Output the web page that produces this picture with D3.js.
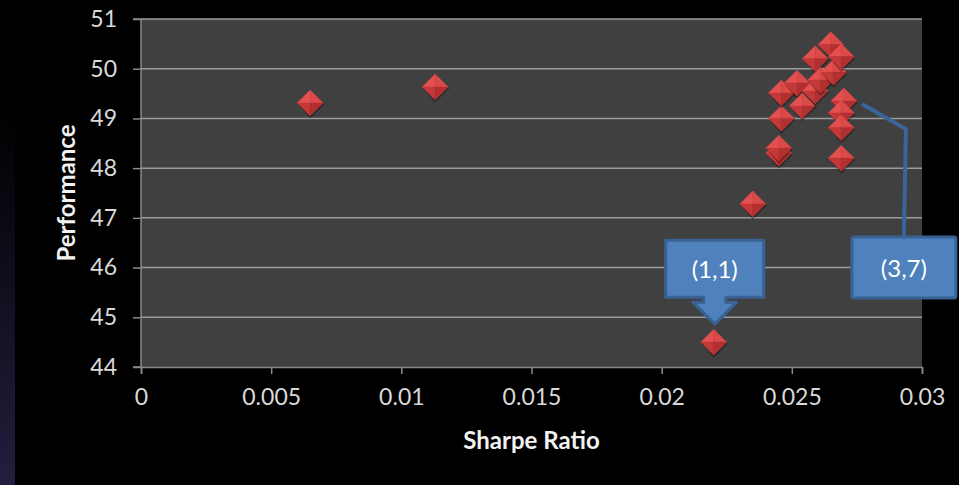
<!DOCTYPE html>
<html>
<head>
<meta charset="utf-8">
<script src="https://cdn.jsdelivr.net/npm/d3@7"></script>
<style>
  html, body { margin: 0; padding: 0; background: #000; }
  svg { display: block; }
</style>
</head>
<body>
<svg id="chart" width="959" height="485"></svg>
<script>
// Sharpe ratio vs performance for each parameter combination
const sharpe = [
  0.0065, 0.0113, 0.0220, 0.0235, 0.0245, 0.0245, 0.0246, 0.0246,
  0.0252, 0.0254, 0.0259, 0.0259, 0.0261, 0.0266, 0.0265, 0.0269,
  0.0270, 0.0269, 0.0269, 0.0269
];
const performance = [
  49.31, 49.63, 44.50, 47.28, 48.30, 48.40, 49.00, 49.51,
  49.71, 49.25, 50.20, 49.55, 49.77, 49.93, 50.48, 50.24,
  49.35, 49.11, 48.81, 48.20
];
const xTicks = [0, 0.005, 0.01, 0.015, 0.02, 0.025, 0.03];
const yTicks = [44, 45, 46, 47, 48, 49, 50, 51];
// Callouts: label text and the index of the point they refer to
const calloutLabels = ["(1,1)", "(3,7)"];
const calloutPoints = [2, 16];

const svg = d3.select("#chart");
const W = 959, H = 485;
const plot = { left: 141, right: 922, top: 19, bottom: 367 };

const x = d3.scaleLinear().domain([0, 0.03]).range([plot.left, plot.right]);
const y = d3.scaleLinear().domain([44, 51]).range([plot.bottom, plot.top]);

const font = "Lato, 'Open Sans', sans-serif";
const defs = svg.append("defs");

// Dark navy strip at the far left
const strip = defs.append("linearGradient").attr("id", "strip")
  .attr("x1", 0).attr("y1", 0).attr("x2", 0).attr("y2", 1);
strip.append("stop").attr("offset", "0%").attr("stop-color", "#000000");
strip.append("stop").attr("offset", "100%").attr("stop-color", "#221e3f");
svg.append("rect").attr("x", 0).attr("y", 105).attr("width", 15).attr("height", H - 105)
  .attr("fill", "url(#strip)");

// Plot area
svg.append("rect")
  .attr("x", plot.left).attr("y", plot.top)
  .attr("width", plot.right - plot.left).attr("height", plot.bottom - plot.top)
  .attr("fill", "#404040");

// Horizontal gridlines
svg.append("g").selectAll("line")
  .data(yTicks.filter(v => v > 44))
  .join("line")
  .attr("x1", plot.left).attr("x2", plot.right)
  .attr("y1", d => y(d)).attr("y2", d => y(d))
  .attr("stroke", "#9c9c9c").attr("stroke-width", 1.5);

// Axes
const xAxis = d3.axisBottom(x).tickValues(xTicks).tickSize(7).tickPadding(15)
  .tickFormat(d => d === 0 ? "0" : String(+d.toFixed(3)));
const yAxis = d3.axisLeft(y).tickValues(yTicks).tickSize(8).tickPadding(16)
  .tickFormat(d3.format("d"));

const gx = svg.append("g").attr("transform", `translate(0,${plot.bottom})`).call(xAxis);
const gy = svg.append("g").attr("transform", `translate(${plot.left},0)`).call(yAxis);
[gx, gy].forEach(g => {
  g.select(".domain").attr("stroke", "#8a8a8a").attr("stroke-width", 1.5);
  g.selectAll(".tick line").attr("stroke", "#8a8a8a").attr("stroke-width", 1.5);
  g.selectAll(".tick text").attr("fill", "#d9d9d9")
    .style("font-family", font).style("font-size", "23px");
});
gy.select(".domain").attr("d", `M-8,${plot.top}H0V${plot.bottom}H-8`);

// Axis titles
svg.append("text")
  .attr("x", (plot.left + plot.right) / 2).attr("y", 449)
  .attr("text-anchor", "middle")
  .attr("fill", "#f2f2f2").style("font-family", font)
  .style("font-size", "24px").style("font-weight", "bold")
  .text("Sharpe Ratio");
svg.append("text")
  .attr("transform", `translate(75,${(plot.top + plot.bottom) / 2}) rotate(-90)`)
  .attr("text-anchor", "middle")
  .attr("fill", "#f2f2f2").style("font-family", font)
  .style("font-size", "24px").style("font-weight", "bold")
  .text("Performance");

// Pyramid-style diamond markers
const pts = sharpe.map((s, i) => ({ s, p: performance[i] }));
const r = 13;
const facets = [
  { d: `M0,0L${-r},0L0,${-r}Z`, fill: "#e44f4f" },
  { d: `M0,0L0,${-r}L${r},0Z`, fill: "#dc4949" },
  { d: `M0,0L${-r},0L0,${r}Z`, fill: "#c43838" },
  { d: `M0,0L${r},0L0,${r}Z`, fill: "#b33030" }
];
const marks = svg.append("g").selectAll("g")
  .data(pts)
  .join("g")
  .attr("transform", d => `translate(${x(d.s)},${y(d.p)})`);
marks.append("path")
  .attr("d", `M0,${-r + 1.5}L${r + 1},1.5L0,${r + 2.5}L${-r + 1},1.5Z`)
  .attr("fill", "#000").attr("opacity", 0.35);
facets.forEach(f => {
  marks.append("path").attr("d", f.d).attr("fill", f.fill)
    .attr("stroke", f.fill).attr("stroke-width", 0.4);
});

// Callout 1: down-arrow box above its point
{
  const i = calloutPoints[0];
  const cx = x(sharpe[i]) + 1, tipY = y(performance[i]) - 18;
  const boxT = tipY - 84, boxB = tipY - 27, hw = 49;
  const path = [
    [cx - hw, boxT], [cx + hw, boxT], [cx + hw, boxB], [cx + 11, boxB],
    [cx + 11, tipY - 22], [cx + 22, tipY - 22], [cx, tipY],
    [cx - 22, tipY - 22], [cx - 11, tipY - 22], [cx - 11, boxB],
    [cx - hw, boxB]
  ];
  svg.append("path")
    .attr("d", d3.line()(path) + "Z")
    .attr("fill", "#4f81bd").attr("stroke", "#3a6193").attr("stroke-width", 3)
    .attr("stroke-linejoin", "round");
  svg.append("text")
    .attr("x", cx).attr("y", (boxT + boxB) / 2 + 9)
    .attr("text-anchor", "middle").attr("fill", "#ffffff")
    .style("font-family", font).style("font-size", "24px")
    .text(calloutLabels[0]);
}

// Callout 2: line callout with box below-right of its point
{
  const i = calloutPoints[1];
  const px = x(sharpe[i]), py = y(performance[i]);
  const start = [px + 18, py + 3];
  const bend = [px + 62, py + 28];
  const boxCx = px + 60;
  const boxT = py + 136, boxB = py + 197;
  svg.append("path")
    .attr("d", d3.line()([start, bend, [boxCx, boxT]]))
    .attr("fill", "none").attr("stroke", "#3a659c").attr("stroke-width", 4);
  svg.append("rect")
    .attr("x", boxCx - 52).attr("y", boxT)
    .attr("width", 104).attr("height", boxB - boxT)
    .attr("rx", 2)
    .attr("fill", "#4f81bd").attr("stroke", "#3a6193").attr("stroke-width", 3);
  svg.append("text")
    .attr("x", boxCx).attr("y", (boxT + boxB) / 2 + 9)
    .attr("text-anchor", "middle").attr("fill", "#ffffff")
    .style("font-family", font).style("font-size", "24px")
    .text(calloutLabels[1]);
}
</script>
</body>
</html>
